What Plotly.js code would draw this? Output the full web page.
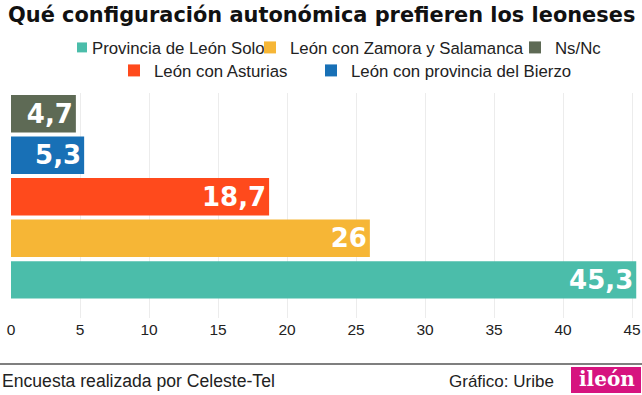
<!DOCTYPE html>
<html>
<head>
<meta charset="utf-8">
<script src="https://cdn.plot.ly/plotly-3.0.1.min.js"></script>
<style>
html,body{margin:0;padding:0;background:#fff;}
#chart{width:642px;height:395px;}
</style>
</head>
<body>
<div id="chart"></div>
<script>
// Data (bottom to top)
const categories = ["Provincia de León Solo", "León con Zamora y Salamanca", "León con Asturias", "León con provincia del Bierzo", "Ns/Nc"];
const values = [45.3, 26, 18.7, 5.3, 4.7];
const colors = ["#4BBDAA", "#F6B636", "#FF4A1C", "#1870B6", "#5E6A55"];
const tickVals = [0, 5, 10, 15, 20, 25, 30, 35, 40, 45];
const legendNames = ["legend", "legend2", "legend4", "legend5", "legend3"];

const L = 11, R = 639, T = 93, B = 318;
const W = R - L, H = B - T;
const px2x = X => (X - L) / W;
const px2y = Y => (B - Y) / H;

const traces = categories.map((c, i) => ({
  type: "bar",
  orientation: "h",
  name: c,
  y: [c],
  x: [values[i]],
  text: [String(values[i]).replace(".", ",")],
  textposition: "inside",
  insidetextanchor: "end",
  textangle: 0,
  textfont: {family: "DejaVu Sans", size: 26, color: "#fff", weight: 700},
  marker: {color: colors[i], line: {width: 0}},
  legend: legendNames[i],
  hoverinfo: "skip",
  cliponaxis: false
}));

// legend text start positions (px) and row centers
const legendPos = {
  legend: [92, 47.5], legend2: [290, 47.5], legend3: [555, 47.5],
  legend4: [154, 70.5], legend5: [351, 70.5]
};
const legFont = {family: "Liberation Sans, Arial, sans-serif", size: 16.8, color: "#222"};
const layout = {
  width: 642, height: 395,
  margin: {l: L, r: 642 - R, t: T, b: 395 - B, pad: 0},
  paper_bgcolor: "#fff", plot_bgcolor: "#fff",
  separators: ",.",
  showlegend: true,
  barmode: "relative",
  bargap: 0.1,
  title: {
    text: "<b>Qué configuración autonómica prefieren los leoneses</b>",
    font: {family: "DejaVu Sans", size: 20.9, color: "#111"},
    xref: "container", x: 8 / 642, xanchor: "left",
    yref: "container", y: 1 - 14.5 / 395, yanchor: "middle"
  },
  xaxis: {
    range: [0, 45.5],
    tickvals: tickVals,
    ticktext: tickVals.map(String),
    showgrid: true, gridcolor: "#ececec", gridwidth: 1,
    zeroline: false, showline: false,
    ticks: "", ticklen: 0,
    tickfont: {family: "Liberation Sans, Arial, sans-serif", size: 15.5, color: "#222"},
    fixedrange: true
  },
  yaxis: {
    type: "category",
    categoryorder: "array", categoryarray: categories,
    range: [-0.92, 4.5],
    showticklabels: false, showgrid: false, zeroline: false, showline: false,
    fixedrange: true
  },
  shapes: [
    {type: "line", xref: "paper", yref: "paper", x0: px2x(0), x1: px2x(642), y0: px2y(364), y1: px2y(364), line: {color: "#555", width: 1.5}},
    {type: "rect", xref: "paper", yref: "paper", x0: px2x(571), x1: px2x(641), y0: px2y(393), y1: px2y(367), fillcolor: "#D6147F", line: {width: 0}}
  ],
  annotations: [
    {text: "Encuesta realizada por Celeste-Tel", xref: "paper", yref: "paper", x: px2x(0), y: px2y(381), xanchor: "left", yanchor: "middle", showarrow: false, font: {family: "Liberation Sans, Arial, sans-serif", size: 17.6, color: "#222"}},
    {text: "Gráfico: Uribe", xref: "paper", yref: "paper", x: px2x(556), y: px2y(381), xanchor: "right", yanchor: "middle", showarrow: false, font: {family: "Liberation Sans, Arial, sans-serif", size: 17, color: "#222"}},
    {text: "<b>ileón</b>", xref: "paper", yref: "paper", x: px2x(606.5), y: px2y(379), xanchor: "center", yanchor: "middle", showarrow: false, font: {family: "DejaVu Serif", size: 20, color: "#fff"}}
  ]
};
Object.keys(legendPos).forEach(k => {
  const [tx, cy] = legendPos[k];
  layout[k] = {
    orientation: "h",
    xref: "paper", yref: "paper",
    x: px2x(tx - 40), xanchor: "left",
    y: px2y(cy), yanchor: "middle",
    bgcolor: "rgba(0,0,0,0)", borderwidth: 0,
    font: legFont,
    itemclick: false, itemdoubleclick: false
  };
});
Plotly.newPlot("chart", traces, layout, {displayModeBar: false, staticPlot: true}).then(gd => {
  // pull legend swatches closer to their labels and size them like the reference
  gd.querySelectorAll(".legend .legendpoints path").forEach(p => {
    p.setAttribute("transform", "translate(30,0) scale(0.83)");
  });
});
</script>
</body>
</html>
